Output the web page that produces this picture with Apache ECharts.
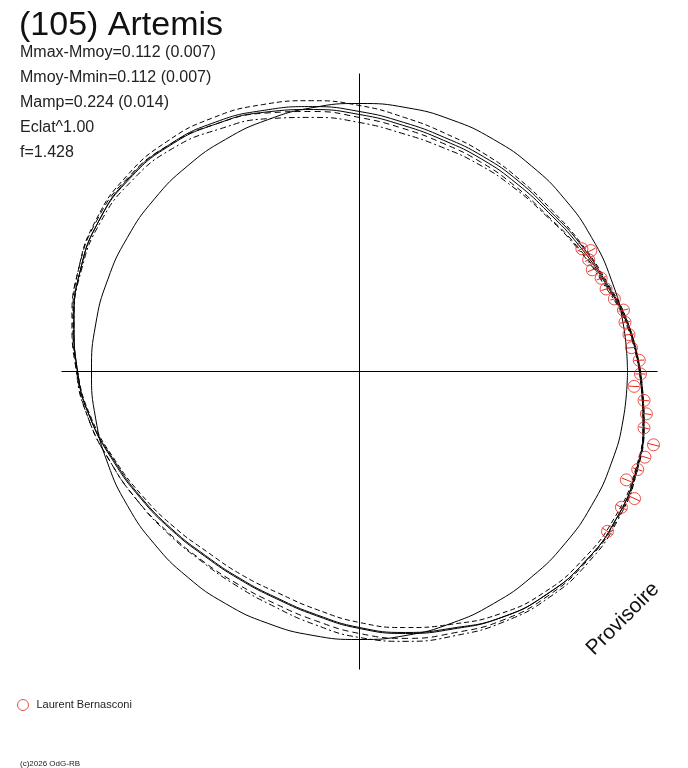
<!DOCTYPE html>
<html>
<head>
<meta charset="utf-8">
<title>(105) Artemis</title>
<script src="https://cdn.jsdelivr.net/npm/echarts@6/dist/echarts.min.js"></script>
<style>
html, body { margin: 0; padding: 0; background: #fff; }
#chart { width: 688px; height: 768px; }
</style>
</head>
<body>
<div id="chart"></div>
<script>
// phase angle (deg, counter-clockwise from the right) and radius of each curve
var phaseAngles = [0, 10, 20, 30, 40, 50, 60, 70, 80, 90, 100, 110, 120, 130, 140, 150, 160, 170,
                   180, 190, 200, 210, 220, 230, 240, 250, 260, 270, 280, 290, 300, 310, 320, 330, 340, 350];

var fitA = [280, 272, 261, 253, 247, 245, 245, 246, 250, 257, 266, 276, 286, 295, 300, 301, 297, 290,
            282, 273, 262, 253, 246, 241, 240, 242, 248, 257, 266, 274, 284, 291, 295, 296, 294, 288];
var fitB = [281, 273, 262, 255, 249, 248, 248, 249, 253, 260, 269, 278, 288, 296, 301, 301, 297, 290,
            282, 273, 261, 252, 245, 240, 239, 241, 247, 256, 265, 273, 284, 291, 295, 296, 294, 289];
var fitC = [280, 273, 263, 256, 251, 250, 251, 253, 258, 266, 275, 284, 293, 300, 304, 304, 299, 291,
            282, 272, 260, 250, 242, 236, 235, 236, 242, 251, 260, 269, 280, 288, 292, 294, 293, 288];
var fitD = [281, 272, 260, 251, 244, 242, 242, 243, 247, 254, 264, 275, 286, 296, 302, 303, 299, 292,
            283, 275, 265, 257, 250, 246, 245, 247, 253, 262, 271, 278, 287, 293, 296, 297, 295, 289];
var fitE = [280, 271, 259, 250, 243, 240, 239, 239, 242, 249, 258, 269, 280, 291, 297, 299, 296, 290,
            283, 275, 265, 257, 251, 247, 247, 250, 257, 266, 274, 281, 289, 295, 298, 298, 295, 288];

// mean level (reference circle), length of the cross arms, outer limit of the plot
var refLevel = 268;
var crossLevel = 298;
var radiusMax = 330;

// observations: Laurent Bernasconi
var obsAngle  = [28.9, 27.6, 26.0, 23.6, 21.1, 18.5, 15.9, 13.1, 10.5, 7.8, 5.0, 2.3,
                 359.5, 356.9, 354.2, 351.6, 348.8, 346.0, 343.3, 340.6, 337.9, 335.2, 332.6, 327.2];
var obsRadius = [254, 261, 255, 254, 259, 260, 265, 271, 270, 272, 273, 280,
                 281, 275, 286, 290, 290, 303, 298, 295, 288, 303, 295, 295];
var obsErr    = [5, 5, 4, 5, 5, 5, 4, 5, 5, 5, 5, 5,
                 5, 5, 5, 5, 5, 6, 5, 5, 5, 6, 6, 6];

var statLines = ['Mmax-Mmoy=0.112 (0.007)', 'Mmoy-Mmin=0.112 (0.007)', 'Mamp=0.224 (0.014)', 'Eclat^1.00', 'f=1.428'];

var FONT = '"Liberation Sans", Arial, sans-serif';
var RED = '#e4251c';

function loop(radii) {
    var d = phaseAngles.map(function (a, i) { return [radii[i], a]; });
    d.push([radii[0], 360]);
    return d;
}

function curve(radii, type) {
    return {
        type: 'line',
        coordinateSystem: 'polar',
        data: loop(radii),
        smooth: 0.5,
        symbol: 'none',
        silent: true,
        lineStyle: { color: '#000', width: 1, type: type }
    };
}

function crossArm(a0, a1) {
    return {
        type: 'line',
        coordinateSystem: 'polar',
        data: [[crossLevel, a0], [crossLevel, a1]],
        symbol: 'none',
        silent: true,
        lineStyle: { color: '#000', width: 1 }
    };
}

var refCircle = phaseAngles.map(function () { return refLevel; });

var obsData = obsAngle.map(function (a, i) { return [obsRadius[i], a, obsErr[i]]; });

var graphics = [{
    type: 'text', x: 19, y: 26,
    style: { text: '(105) Artemis', font: '34px ' + FONT, fill: '#111', align: 'left', verticalAlign: 'middle' }
}];
statLines.forEach(function (t, i) {
    graphics.push({
        type: 'text', x: 20, y: 52.5 + i * 25,
        style: { text: t, font: '16px ' + FONT, fill: '#222', align: 'left', verticalAlign: 'middle' }
    });
});
graphics.push({
    type: 'text', x: 623, y: 619, rotation: Math.PI / 4,
    style: { text: 'Provisoire', font: '21px ' + FONT, fill: '#111', align: 'center', verticalAlign: 'middle' }
});
graphics.push({
    type: 'text', x: 20, y: 763.5,
    style: { text: '(c)2026 OdG-RB', font: '8px ' + FONT, fill: '#222', align: 'left', verticalAlign: 'middle' }
});

var chart = echarts.init(document.getElementById('chart'));
chart.setOption({
    animation: false,
    backgroundColor: '#fff',
    polar: { center: [359.5, 371.5], radius: radiusMax },
    radiusAxis: {
        type: 'value', min: 0, max: radiusMax,
        axisLine: { show: false }, axisTick: { show: false },
        axisLabel: { show: false }, splitLine: { show: false }
    },
    angleAxis: {
        type: 'value', min: 0, max: 360,
        startAngle: 0, clockwise: false,
        axisLine: { show: false }, axisTick: { show: false }, axisLabel: { show: false },
        splitLine: { show: false }
    },
    legend: {
        left: 17, top: 699, padding: 0,
        itemWidth: 11, itemHeight: 11,
        data: [{ name: 'Laurent Bernasconi', icon: 'circle' }],
        itemStyle: { color: 'rgba(0,0,0,0)', borderColor: RED, borderWidth: 1 },
        textStyle: { fontFamily: FONT, fontSize: 11, color: '#222', padding: [0, 0, 0, 3] },
        selectedMode: false
    },
    graphic: graphics,
    series: [
        crossArm(0, 180),
        crossArm(90, 270),
        curve(refCircle, 'solid'),
        curve(fitA, 'solid'),
        curve(fitB, 'solid'),
        curve(fitC, [5, 3]),
        curve(fitD, [6, 4]),
        curve(fitE, [6, 3, 2, 3]),
        {
            type: 'custom',
            coordinateSystem: 'polar',
            silent: true,
            encode: { radius: 0, angle: 1 },
            data: obsData,
            z: 4,
            renderItem: function (params, api) {
                var r = api.value(0), a = api.value(1), e = api.value(2);
                var p1 = api.coord([r - e, a]);
                var p2 = api.coord([r + e, a]);
                return {
                    type: 'line',
                    shape: { x1: p1[0], y1: p1[1], x2: p2[0], y2: p2[1] },
                    style: { stroke: RED, lineWidth: 1 }
                };
            }
        },
        {
            name: 'Laurent Bernasconi',
            type: 'scatter',
            coordinateSystem: 'polar',
            data: obsData,
            symbol: 'circle',
            symbolSize: 12,
            z: 5,
            itemStyle: { color: 'rgba(0,0,0,0)', borderColor: RED, borderWidth: 1 }
        }
    ]
});
</script>
</body>
</html>
